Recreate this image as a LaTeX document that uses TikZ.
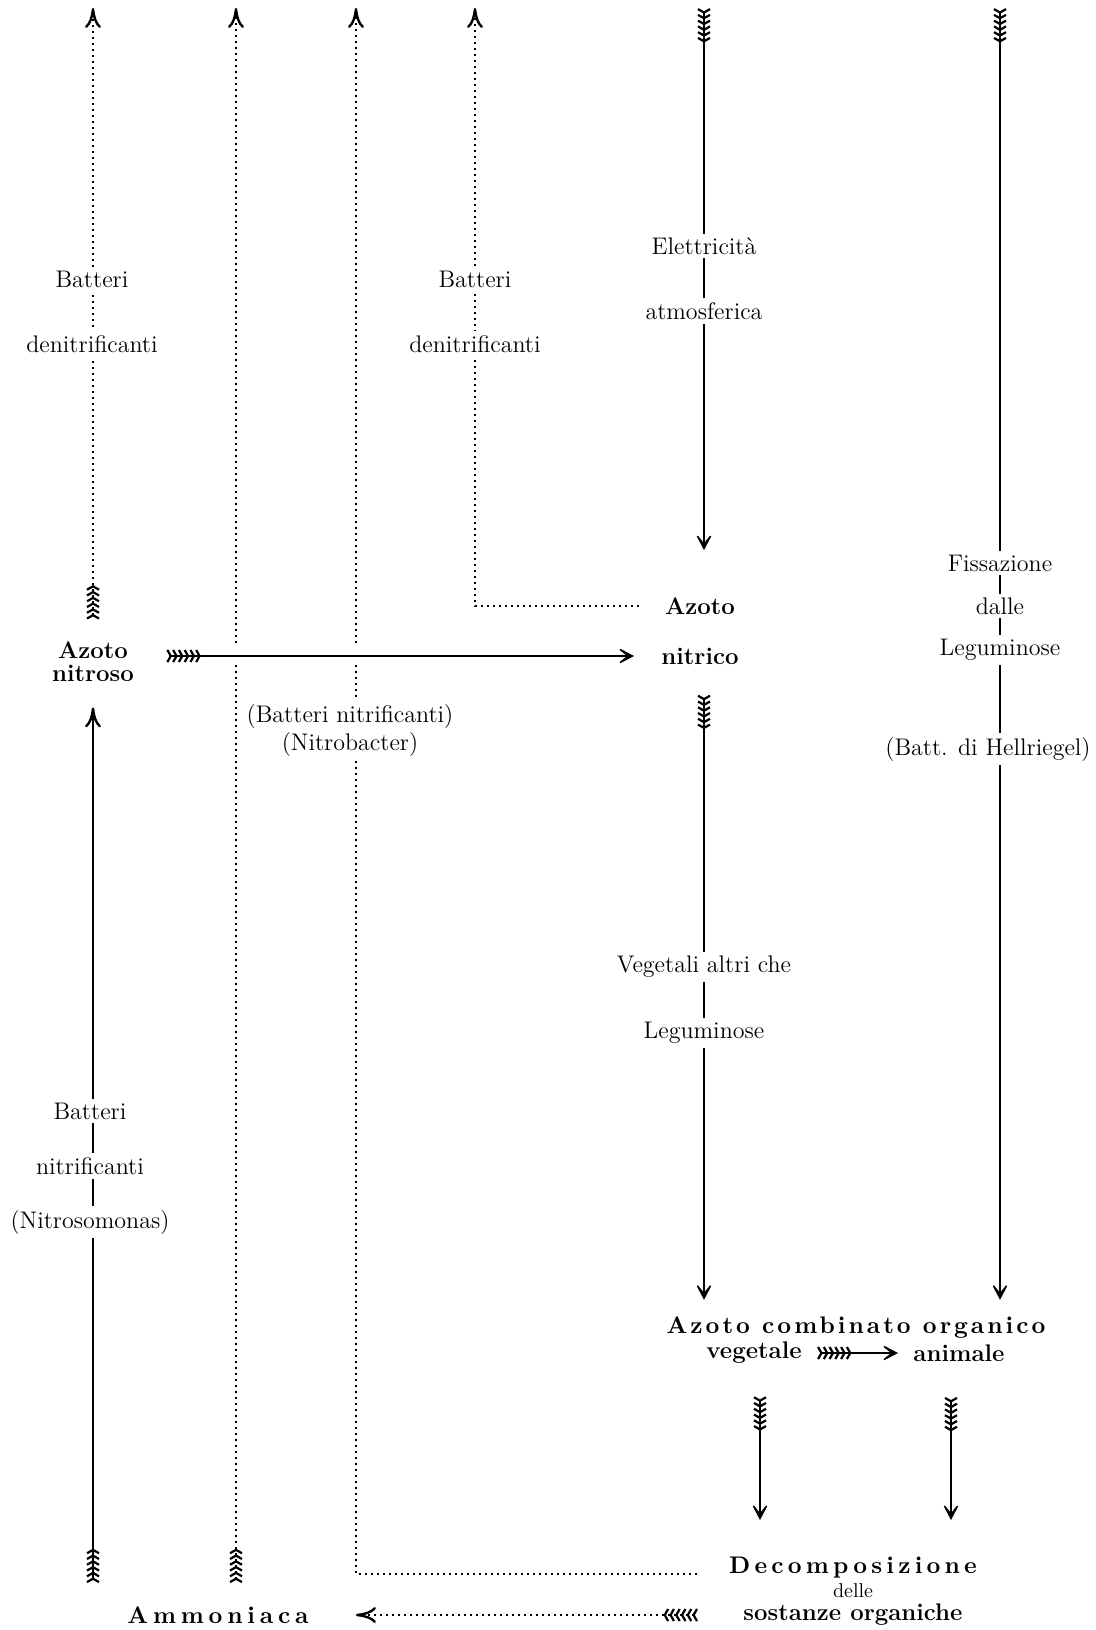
\documentclass[tikz,border=0pt]{standalone}
\usepackage{fontspec}
\usepackage{tikz}
\usetikzlibrary{arrows.meta,positioning}
\newfontfamily\trackedfont[LetterSpace=12.5]{lmroman10-bold.otf}
\newfontfamily\midtrackedfont[LetterSpace=17.5]{lmroman10-bold.otf}
\newfontfamily\widetrackedfont[LetterSpace=20]{lmroman10-bold.otf}

\begin{document}
\begin{tikzpicture}[
    x=0.5pt, y=-0.5pt,
    Fletch/.tip={Straight Barb[reversed,length=1.7pt,width=6pt,line width=1.1pt,sep=0pt]
        Straight Barb[reversed,length=1.7pt,width=6pt,line width=1.1pt,sep=0pt]
        Straight Barb[reversed,length=1.7pt,width=6pt,line width=1.1pt,sep=0pt]
        Straight Barb[reversed,length=1.7pt,width=6pt,line width=1.1pt,sep=0pt]
        Straight Barb[reversed,length=1.7pt,width=6pt,line width=1.1pt,sep=0pt]
        Straight Barb[reversed,length=1.7pt,width=6pt,line width=1.1pt,sep=0pt]},
    Vhead/.tip={Stealth[length=10pt,width=10.5pt,inset=6.5pt]},
    Curlhead/.tip={Computer Modern Rightarrow[length=10pt,width=8pt,line width=1.2pt]},
    flow/.style={draw, line width=0.7pt},
    dots/.style={draw, line width=0.9pt, dash pattern=on 0.9pt off 2.1pt},
    lbl/.style={fill=white, inner sep=2pt, font=\fontsize{12}{14}\selectfont},
    heavy/.style={inner sep=1pt, font=\fontsize{12}{11.5}\selectfont\bfseries},
    spaced/.style={inner sep=1pt, font=\fontsize{12}{13}\selectfont\trackedfont}
]
\useasboundingbox (0,0) rectangle (1096,1630);

% ends at the top edge
\coordinate (t1) at (93,8);
\coordinate (t2) at (236,8);
\coordinate (t3) at (356,8);
\coordinate (t4) at (475,8);
\coordinate (t5) at (704,8);
\coordinate (t6) at (1000,8);

% compounds
\node[heavy, align=center] (nitroso) at (93,662) {Azoto\\nitroso};
\node[heavy] (azN) at (700,606) {Azoto};
\node[heavy] (nitrico) at (700,656) {nitrico};
\node[spaced] (combinato) at (856,1328) {Azoto combinato organico};
\node[heavy] (vegetale) at (754,1353) {vegetale};
\node[heavy] (animale) at (959,1353) {animale};
\node[spaced, font=\fontsize{12}{13}\selectfont\midtrackedfont] (decomp) at (853,1568) {Decomposizione};
\node[inner sep=1pt, font=\fontsize{10}{11}\selectfont] (delle) at (853,1591) {delle};
\node[heavy] (sostanze) at (853,1615) {sostanze organiche};
\node[spaced, font=\fontsize{12}{13}\selectfont\widetrackedfont] (ammoniaca) at (218,1615) {Ammoniaca};

% losses to the air
\draw[dots, Fletch-Curlhead, shorten <=10pt] (nitroso.north) -- (t1);
\draw[dots, Fletch-Curlhead, shorten <=10.5pt] (ammoniaca.north -| t2) -- (t2);
\draw[dots, -Curlhead, shorten <=15pt] (decomp.base west) -| (t3);
\draw[dots, -Curlhead, shorten <=12pt] (azN.west) -| (t4);

% fixation
\draw[flow, Fletch-Vhead, shorten >=22.5pt] (t5) -- (azN.north -| t5);
\draw[flow, Fletch-Vhead, shorten >=7.5pt] (t6) -- (combinato.north -| t6);

% nitrification
\draw[flow, Fletch-Curlhead, shorten <=10.5pt, shorten >=11.5pt] (ammoniaca.north -| nitroso) -- (nitroso.south);
\draw[flow, Fletch-Vhead, shorten <=15pt, shorten >=12.5pt,
    preaction={draw=white, line width=9pt, arrows=-}] (nitroso.east |- nitrico) -- (nitrico.west);

% uptake and decay
\draw[flow, Fletch-Vhead, shorten <=14pt, shorten >=7.5pt] (nitrico.south -| t5) -- (combinato.north -| t5);
\draw[flow, Fletch-Vhead, shorten <=6.5pt, shorten >=6.5pt] (vegetale) -- (animale);
\draw[flow, Fletch-Vhead, shorten <=15pt, shorten >=17.5pt] ([xshift=3pt]vegetale.south) -- ([xshift=3pt]decomp.north -| vegetale);
\draw[flow, Fletch-Vhead, shorten <=16.5pt, shorten >=17.5pt] ([xshift=-4pt]animale.south) -- ([xshift=-4pt]decomp.north -| animale);
\draw[dots, Fletch-Curlhead, shorten <=21.5pt, shorten >=22.5pt] (sostanze.west) -- (ammoniaca.east);

% labels on the lines
\node[lbl] (bd1) at (92,279) {Batteri};
\node[lbl] (bd2) at (92,344) {denitrificanti};
\node[lbl] (bd3) at (475,279) {Batteri};
\node[lbl] (bd4) at (475,344) {denitrificanti};
\node[lbl] (el1) at (704,246) {Elettricità};
\node[lbl] (el2) at (704,311) {atmosferica};
\node[lbl] (fi1) at (1000,563) {Fissazione};
\node[lbl] (fi2) at (1000,606) {dalle};
\node[lbl] (fi3) at (1000,650) {Leguminose};
\node[lbl] (fi4) at (988,749) {(Batt. di Hellriegel)};
\node[lbl, align=center] (nb) at (350,730) {(Batteri nitrificanti)\\(Nitrobacter)};
\node[lbl] (ve1) at (704,967) {Vegetali altri che};
\node[lbl] (ve2) at (704,1033) {Leguminose};
\node[lbl] (bn1) at (90,1111) {Batteri};
\node[lbl] (bn2) at (90,1166) {nitrificanti};
\node[lbl] (bn3) at (90,1222) {(Nitrosomonas)};
\end{tikzpicture}
\end{document}
